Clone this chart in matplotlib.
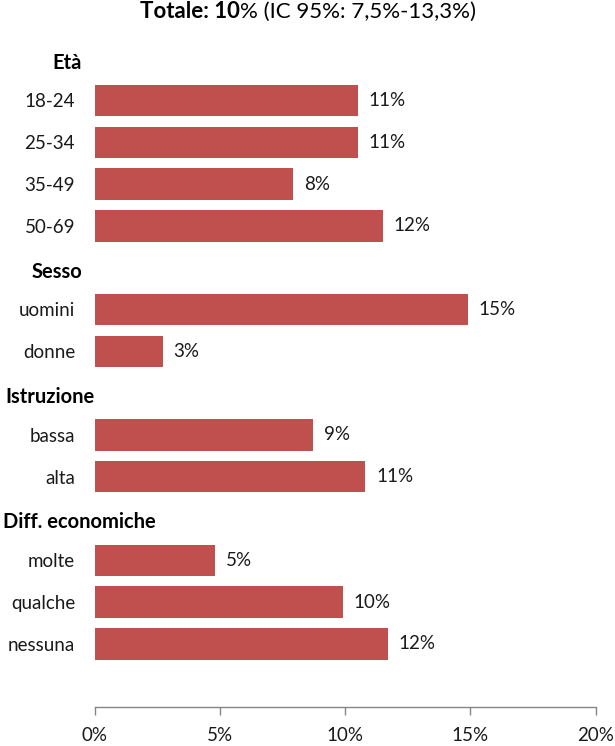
import matplotlib
matplotlib.use("Agg")
import matplotlib.pyplot as plt

plt.rcParams['font.family'] = ['Lato', 'DejaVu Sans']

# ---- data ----
groups = ["Età", "Sesso", "Istruzione", "Diff. economiche"]
group_items = [
    ["18-24", "25-34", "35-49", "50-69"],
    ["uomini", "donne"],
    ["bassa", "alta"],
    ["molte", "qualche", "nessuna"],
]
group_values = [
    [10.5, 10.5, 7.9, 11.5],
    [14.9, 2.7],
    [8.7, 10.8],
    [4.8, 9.9, 11.7],
]
group_value_labels = [
    ["11%", "11%", "8%", "12%"],
    ["15%", "3%"],
    ["9%", "11%"],
    ["5%", "10%", "12%"],
]
x_ticks = [0, 5, 10, 15, 20]
x_tick_labels = ["0%", "5%", "10%", "15%", "20%"]
title_bold = "Totale: 10"
title_rest = "% (IC 95%: 7,5%-13,3%)"

# ---- layout ----
W, H = 615, 746
fig = plt.figure(figsize=(W / 100, H / 100), dpi=100)
ax_left, ax_right, ax_top, ax_bottom = 95, 595.5, 37.8, 706.6
ax = fig.add_axes([ax_left / W, 1 - ax_bottom / H, (ax_right - ax_left) / W, (ax_bottom - ax_top) / H])

bar_color = "#C0504D"
text_color = "#1a1a1a"
header_x_px = [52, 32, 5, 3]
fs = 13.5

row = 0
ytick_pos, ytick_lab = [], []
header_rows = []
for g, items, vals, vlabs in zip(groups, group_items, group_values, group_value_labels):
    header_rows.append(row)
    row += 1
    for it, v, vl in zip(items, vals, vlabs):
        ax.barh(row, v, height=0.75, color=bar_color, edgecolor="none")
        ax.annotate(vl, xy=(v, row), xytext=(11 * 0.72, 0), textcoords="offset points",
                    va="center", ha="left", fontsize=fs, color=text_color)
        ytick_pos.append(row)
        ytick_lab.append(it)
        row += 1
n_rows = row + 1  # one empty row at bottom

ax.set_ylim(n_rows - 0.5, -0.5)
ax.set_xlim(0, 20)
ax.set_yticks(ytick_pos)
ax.set_yticklabels(ytick_lab, fontsize=fs, color=text_color)
ax.tick_params(axis="y", length=0, pad=14.4)
ax.set_xticks(x_ticks)
ax.set_xticklabels(x_tick_labels, fontsize=fs, color=text_color)
ax.tick_params(axis="x", length=5.8, color="#868686", width=1, pad=9, direction="out")
for s in ["left", "right", "top"]:
    ax.spines[s].set_visible(False)
ax.spines["bottom"].set_color("#868686")
ax.spines["bottom"].set_linewidth(1)

# group headers
row_px = (ax_bottom - ax_top) / n_rows
for g, r, xp in zip(groups, header_rows, header_x_px):
    ypx = ax_top + (r + 0.5) * row_px + 4
    fig.text(xp / W, 1 - ypx / H, g, fontsize=14.5, fontweight="bold", ha="left", va="center",
             color="#000000")

# title
ty = 1 - 12 / H
t1 = fig.text(0, ty, title_bold, fontsize=16, fontweight="bold", ha="left", va="center")
t2 = fig.text(0, ty, title_rest, fontsize=16, ha="left", va="center")
fig.canvas.draw()
r = fig.canvas.get_renderer()
w1 = t1.get_window_extent(r).width
w2 = t2.get_window_extent(r).width
x0 = 308 - (w1 + w2) / 2
t1.set_x(x0 / W)
t2.set_x((x0 + w1) / W)

fig.savefig("out.png", dpi=100)
